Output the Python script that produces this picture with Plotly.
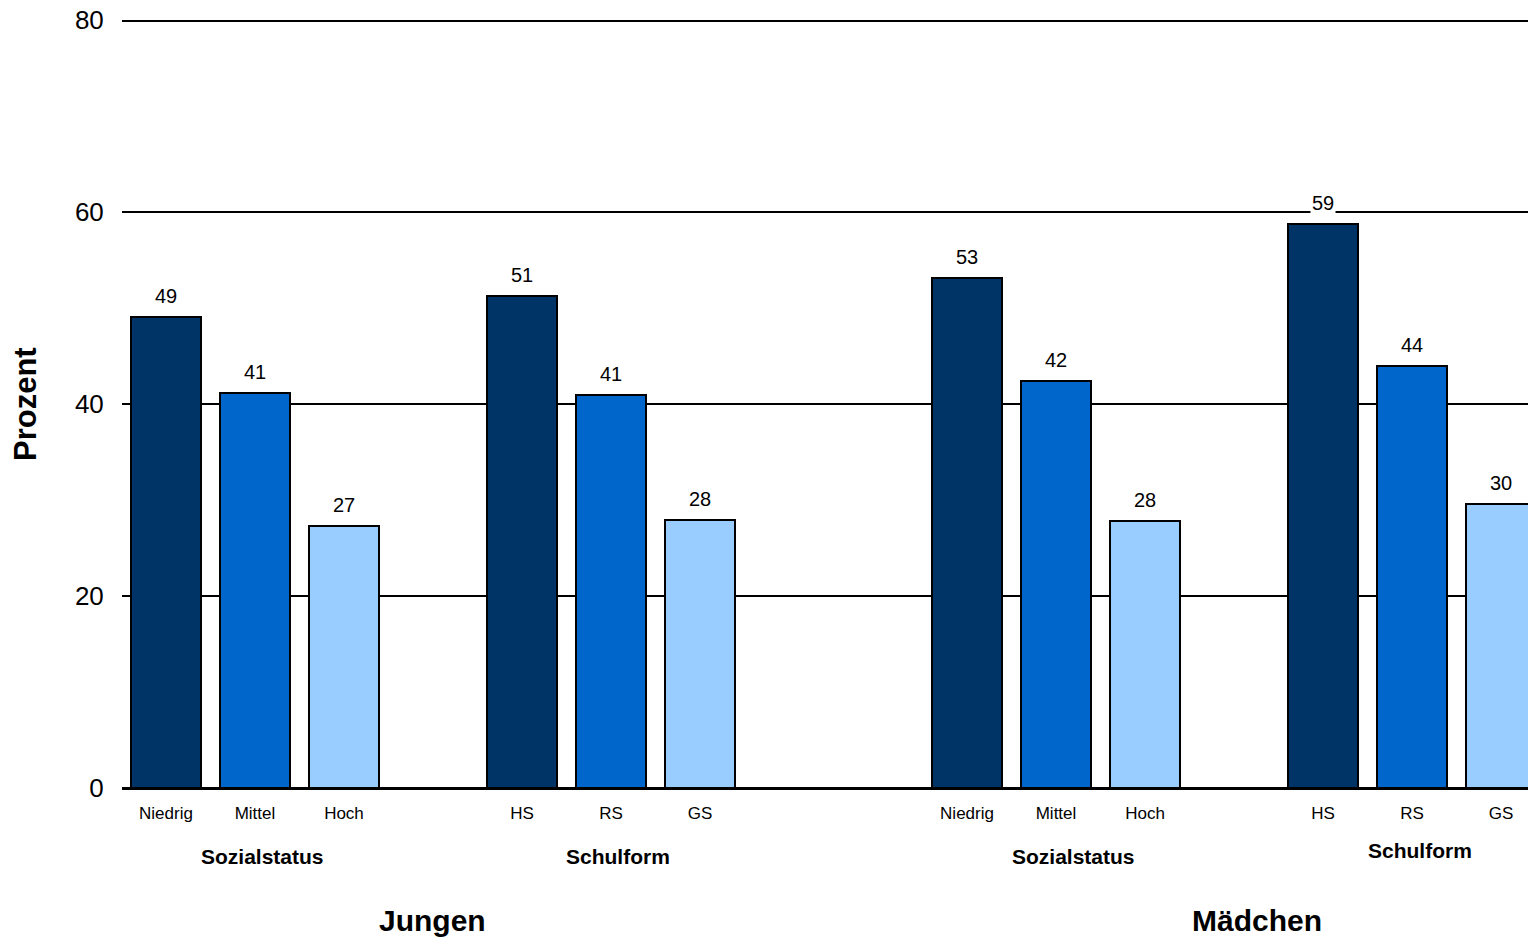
import plotly.graph_objects as go

# Data
categories = ["Niedrig", "Mittel", "Hoch", "HS", "RS", "GS",
              "Niedrig", "Mittel", "Hoch", "HS", "RS", "GS"]
values = [49.1, 41.1, 27.3, 51.2, 40.9, 27.9, 53.1, 42.4, 27.8, 58.8, 44.0, 29.6]
labels = ["49", "41", "27", "51", "41", "28", "53", "42", "28", "59", "44", "30"]
subgroups = ["Sozialstatus", "Schulform", "Sozialstatus", "Schulform"]
genders = ["Jungen", "Mädchen"]
colors = ["#003366", "#0066CC", "#99CCFF"]
y_ticks = [0, 20, 40, 60, 80]

# Layout of slots: bars grouped in threes with gaps between groups
group_offsets = [0, 4, 9, 13]
xpos = []
for g, off in enumerate(group_offsets):
    for i in range(3):
        xpos.append(off + i)
bar_colors = [colors[i % 3] for i in range(len(values))]

fig = go.Figure()
fig.add_trace(go.Bar(
    x=xpos, y=values, width=0.785,
    marker=dict(color=bar_colors, line=dict(color="black", width=2)),
    hoverinfo="skip", showlegend=False,
))

font_family = "Liberation Sans, Arial, sans-serif"

annotations = []
for x, v, t in zip(xpos, values, labels):
    annotations.append(dict(
        x=x, y=v, xref="x", yref="y", text=t, showarrow=False,
        yanchor="bottom", yshift=8, bgcolor="white", borderpad=1,
        font=dict(size=20, color="black", family=font_family),
    ))

# Subgroup labels
sub_x = [1.08, 5.08, 10.2, 14.09]
sub_y = [-0.0898, -0.0898, -0.0898, -0.082]
for name, sx, sy in zip(subgroups, sub_x, sub_y):
    annotations.append(dict(
        x=sx, y=sy, xref="x", yref="paper", text="<b>%s</b>" % name,
        showarrow=False, xanchor="center", yanchor="middle",
        font=dict(size=21, color="black", family=font_family),
    ))

# Gender labels
for name, gx in zip(genders, [3.0, 12.26]):
    annotations.append(dict(
        x=gx, y=-0.173, xref="x", yref="paper", text="<b>%s</b>" % name,
        showarrow=False, xanchor="center", yanchor="middle",
        font=dict(size=30, color="black", family=font_family),
    ))

# Y axis title
annotations.append(dict(
    x=-0.069, y=0.5, xref="paper", yref="paper", text="<b>Prozent</b>",
    textangle=-90, showarrow=False, xanchor="center", yanchor="middle",
    font=dict(size=31, color="black", family=font_family),
))

fig.update_layout(
    width=1528, height=938,
    margin=dict(l=122, r=0, t=20, b=150, autoexpand=False),
    plot_bgcolor="white", paper_bgcolor="white",
    font=dict(family=font_family, color="black"),
    annotations=annotations,
    bargap=0,
    shapes=[dict(type="line", xref="paper", yref="y", x0=0, x1=1,
                 y0=y_ticks[-1], y1=y_ticks[-1],
                 line=dict(color="black", width=4), layer="below")],
)
fig.update_xaxes(
    range=[-0.494, 15.303], tickvals=xpos, ticktext=categories,
    tickfont=dict(size=17, color="black", family=font_family),
    ticks="outside", ticklen=10, tickcolor="rgba(0,0,0,0)",
    showgrid=False, zeroline=False, showline=False, automargin=False,
)
fig.update_yaxes(
    range=[y_ticks[0], y_ticks[-1]], tickvals=y_ticks,
    tickfont=dict(size=26, color="black", family=font_family),
    ticks="outside", ticklen=12, tickcolor="rgba(0,0,0,0)",
    ticklabeloverflow="allow", automargin=False,
    showgrid=True, gridcolor="black", gridwidth=2,
    zeroline=True, zerolinecolor="black", zerolinewidth=3,
    showline=False,
)

fig.write_html(
    "out.html",
    config={"displayModeBar": False},
    post_script="document.body.style.margin='0';document.body.style.overflow='hidden';",
)
